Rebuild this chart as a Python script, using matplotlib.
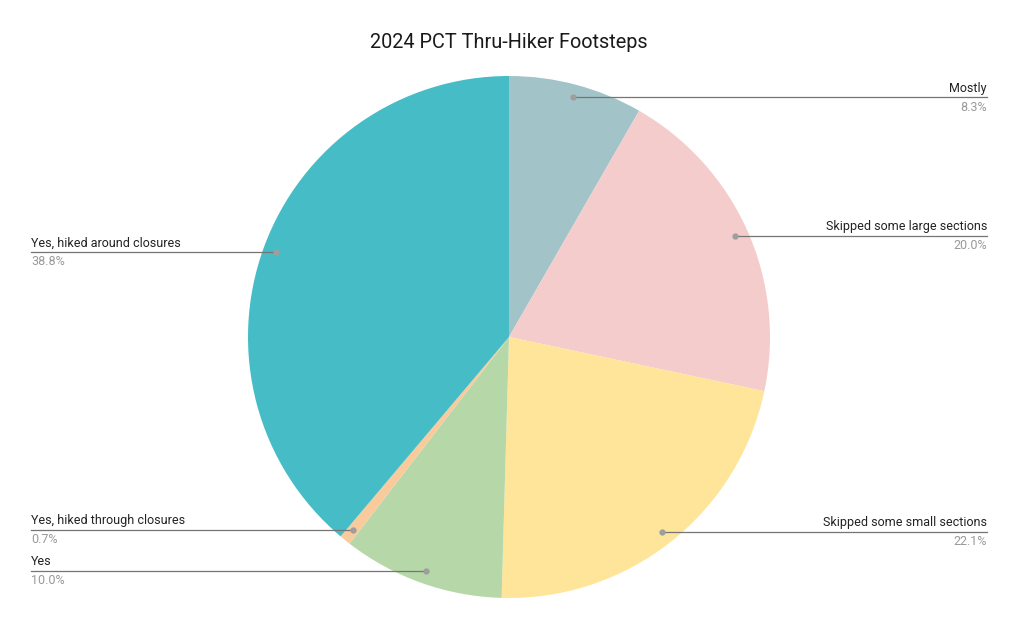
import numpy as np
import matplotlib
matplotlib.use('Agg')
import matplotlib.pyplot as plt

# data, clockwise from 12 o'clock
labels = ['Mostly', 'Skipped some large sections', 'Skipped some small sections',
          'Yes', 'Yes, hiked through closures', 'Yes, hiked around closures']
shares = [8.3, 20.0, 22.1, 10.0, 0.7, 38.8]
colors = ['#a2c4c9', '#f4cccc', '#ffe599', '#b6d7a8', '#f9cb9c', '#46bdc6']

W, H = 1018, 629
fig = plt.figure(figsize=(W / 100, H / 100), dpi=100)
ax = fig.add_axes([0, 0, 1, 1])

cx, cy, R = 509, H - 337, 261
ax.pie(shares, colors=colors, startangle=90, counterclock=False,
       center=(cx, cy), radius=R, frame=True,
       wedgeprops=dict(linewidth=0))
ax.set_xlim(0, W)
ax.set_ylim(0, H)
ax.set_aspect('equal')
ax.axis('off')

ax.text(W / 2, H - 43, '2024 PCT Thru-Hiker Footsteps', fontsize=14.3,
        family='Roboto', ha='center', va='center', color='#1a1a1a')

# leader lines + labels
total = sum(shares)
cum = 0
for lab, val in zip(labels, shares):
    mid = (cum + val / 2) / total * 2 * np.pi
    cum += val
    px = cx + 0.95 * R * np.sin(mid)
    py = cy + 0.95 * R * np.cos(mid)
    if px > cx:
        x_end, ha = 987, 'right'
    else:
        x_end, ha = 31, 'left'
    ax.plot([px, x_end], [py, py], color='#757575', lw=0.9, zorder=3)
    ax.plot(px, py, 'o', color='#9e9e9e', ms=3.5, zorder=4)
    ax.text(x_end, py + 2.5, lab, fontsize=9, family='Roboto', ha=ha,
            va='bottom', color='#222222')
    ax.text(x_end, py - 3.5, f'{val:.1f}%', fontsize=9, family='Roboto', ha=ha,
            va='top', color='#999999')

plt.savefig('out.png', dpi=100, facecolor='white')
plt.close()
